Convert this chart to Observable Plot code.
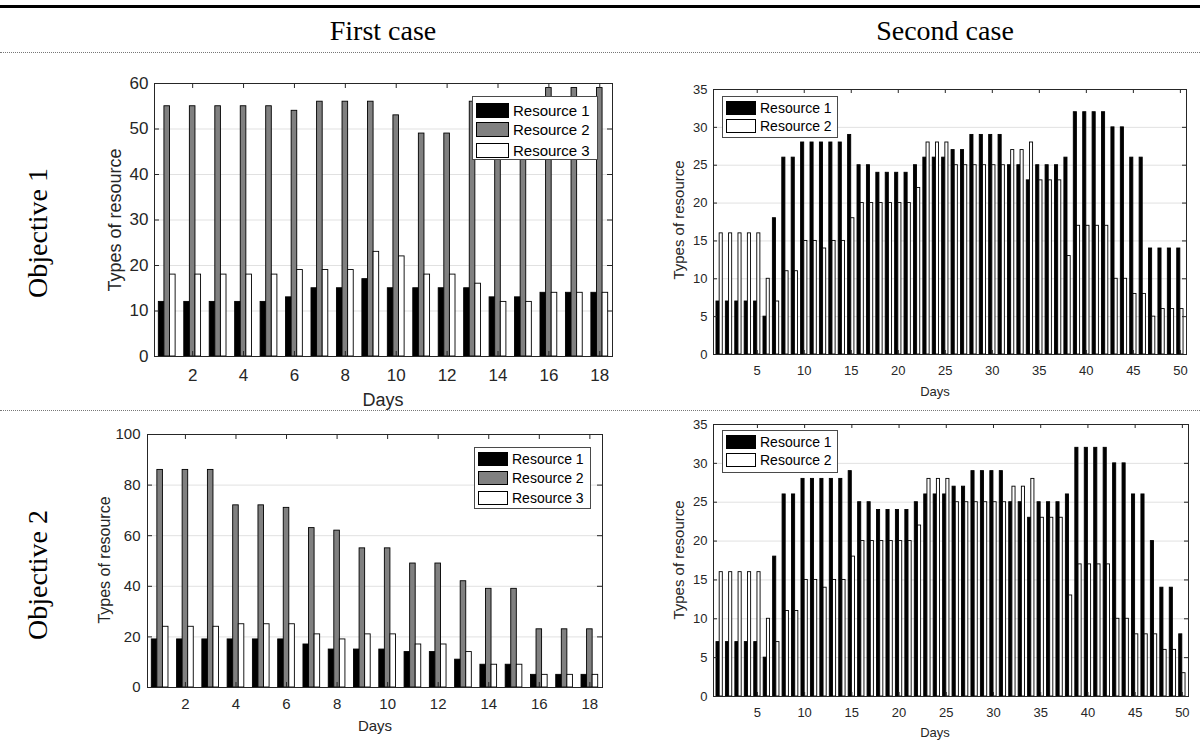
<!DOCTYPE html>
<html>
<head>
<meta charset="utf-8">
<script src="https://cdn.jsdelivr.net/npm/d3@7"></script>
<script src="https://cdn.jsdelivr.net/npm/@observablehq/plot@0.6"></script>
<style>
  html, body { margin: 0; padding: 0; background: #fff; }
  #page { position: relative; width: 1200px; height: 740px; overflow: hidden; background: #fff;
          font-family: "Liberation Sans", Arial, sans-serif; color: #262626; }
  .abs { position: absolute; }
  .serif { font-family: "Liberation Serif", "Times New Roman", serif; color: #000; font-size: 28px; white-space: nowrap; }
  .lab { white-space: nowrap; color: #262626; }
  .c { transform: translate(-50%, -50%); }
  .rot { transform: translate(-50%, -50%) rotate(-90deg); }
  .legend { position: absolute; background: #fff; border: 1px solid #4a4a4a; box-sizing: border-box; }
  .legend .row { position: absolute; left: 0; display: flex; align-items: center; white-space: nowrap; color: #000; }
  .legend .sw { border: 1px solid #000; box-sizing: border-box; margin-right: 4px; }
  .dotline { position: absolute; left: 0; width: 1200px; height: 0; border-top: 1px dotted #777; }
</style>
</head>
<body>
<div id="page"></div>
<script>
// ---------------- data ----------------
const days18 = [1,2,3,4,5,6,7,8,9,10,11,12,13,14,15,16,17,18];
const days50 = [1,2,3,4,5,6,7,8,9,10,11,12,13,14,15,16,17,18,19,20,21,22,23,24,25,
                26,27,28,29,30,31,32,33,34,35,36,37,38,39,40,41,42,43,44,45,46,47,48,49,50];

// First case, Objective 1
const c1o1R1 = [12,12,12,12,12,13,15,15,17,15,15,15,15,13,13,14,14,14];
const c1o1R2 = [55,55,55,55,55,54,56,56,56,53,49,49,56,57,57,59,59,59];
const c1o1R3 = [18,18,18,18,18,19,19,19,23,22,18,18,16,12,12,14,14,14];

// First case, Objective 2
const c1o2R1 = [19,19,19,19,19,19,17,15,15,15,14,14,11,9,9,5,5,5];
const c1o2R2 = [86,86,86,72,72,71,63,62,55,55,49,49,42,39,39,23,23,23];
const c1o2R3 = [24,24,24,25,25,25,21,19,21,21,17,17,14,9,9,5,5,5];

// Second case, Objective 1
const c2o1R1 = [7,7,7,7,7,5,18,26,26,28,28,28,28,28,29,25,25,24,24,24,24,25,26,26,26,
                27,27,29,29,29,29,25,25,23,25,25,25,26,32,32,32,32,30,30,26,26,14,14,14,14];
const c2o1R2 = [16,16,16,16,16,10,7,11,11,15,15,14,15,15,18,20,20,20,20,20,20,22,28,28,28,
                25,25,25,25,25,25,27,27,28,23,23,23,13,17,17,17,17,10,10,8,8,5,6,6,6];

// Second case, Objective 2
const c2o2R1 = [7,7,7,7,7,5,18,26,26,28,28,28,28,28,29,25,25,24,24,24,24,25,26,26,26,
                27,27,29,29,29,29,25,25,23,25,25,25,26,32,32,32,32,30,30,26,26,20,14,14,8];
const c2o2R2 = [16,16,16,16,16,10,7,11,11,15,15,14,15,15,18,20,20,20,20,20,20,22,28,28,28,
                25,25,25,25,25,25,27,27,28,23,23,23,13,17,17,17,17,10,10,8,8,8,6,6,3];

const names3 = ["Resource 1", "Resource 2", "Resource 3"];
const names2 = ["Resource 1", "Resource 2"];
const fills3 = ["#000000", "#808080", "#ffffff"];
const fills2 = ["#000000", "#ffffff"];

const xTicks18 = [2,4,6,8,10,12,14,16,18];
const xTicks50 = [5,10,15,20,25,30,35,40,45,50];
const yTicks60 = [0,10,20,30,40,50,60];
const yTicks100 = [0,20,40,60,80,100];
const yTicks35 = [0,5,10,15,20,25,30,35];

const headers = ["First case", "Second case"];
const rowLabels = ["Objective 1", "Objective 2"];

// ---------------- helpers ----------------
const page = document.getElementById("page");

function place(el, left, top) {
  el.style.position = "absolute";
  el.style.left = left + "px";
  el.style.top = top + "px";
  page.appendChild(el);
  return el;
}

function textAt(str, x, y, cls, size) {
  const d = document.createElement("div");
  d.className = "abs " + cls;
  d.textContent = str;
  if (size) d.style.fontSize = size + "px";
  d.style.left = x + "px";
  d.style.top = y + "px";
  page.appendChild(d);
  return d;
}

function panel(cfg) {
  const {days, series, fills, xDomain, xTicks, yDomain, yTicks, offsets, bw,
         width, height, ml, mr, mt, mb, fs, xPad, yPad, tick} = cfg;
  const ph = height - mt - mb, pw = width - ml - mr;
  const rows = series.flatMap((vals, s) => vals.map((v, j) => ({day: days[j], s, v})));
  return Plot.plot({
    width, height,
    marginLeft: ml, marginRight: mr, marginTop: mt, marginBottom: mb,
    style: {fontFamily: "'Liberation Sans', Arial, sans-serif", fontSize: fs + "px",
            color: "#262626", background: "transparent", overflow: "visible"},
    x: {domain: xDomain},
    y: {domain: yDomain},
    color: {type: "identity"},
    marks: [
      Plot.gridY(yTicks, {stroke: "#e1e1e1", strokeOpacity: 1}),
      Plot.rect(rows, {
        x1: d => d.day + offsets[d.s] - bw / 2,
        x2: d => d.day + offsets[d.s] + bw / 2,
        y1: d => 0, y2: "v",
        fill: d => fills[d.s], stroke: "#000", strokeWidth: 0.9
      }),
      Plot.tickX(xTicks, {x: d => d, insetTop: ph - tick, stroke: "#262626"}),
      Plot.tickX(xTicks, {x: d => d, insetBottom: ph - tick, stroke: "#262626"}),
      Plot.tickY(yTicks, {y: d => d, insetRight: pw - tick, stroke: "#262626"}),
      Plot.tickY(yTicks, {y: d => d, insetLeft: pw - tick, stroke: "#262626"}),
      Plot.axisX(xTicks, {tickSize: 0, tickPadding: xPad, label: null}),
      Plot.axisY(yTicks, {tickSize: 0, tickPadding: yPad, label: null}),
      Plot.frame({stroke: "#262626"})
    ]
  });
}

function legend(left, top, w, h, names, fills, rowCenters, swW, swH, fs) {
  const box = document.createElement("div");
  box.className = "legend";
  box.style.left = left + "px"; box.style.top = top + "px";
  box.style.width = w + "px"; box.style.height = h + "px";
  names.forEach((n, i) => {
    const r = document.createElement("div");
    r.className = "row";
    r.style.top = (rowCenters[i] - swH / 2 - 1) + "px";
    r.style.left = "3px";
    r.style.height = (swH) + "px";
    r.style.fontSize = fs + "px";
    const sw = document.createElement("div");
    sw.className = "sw";
    sw.style.width = swW + "px"; sw.style.height = swH + "px";
    sw.style.background = fills[i];
    const t = document.createElement("span");
    t.textContent = n;
    r.appendChild(sw); r.appendChild(t);
    box.appendChild(r);
  });
  page.appendChild(box);
}

// ---------------- table decoration ----------------
const topLine = document.createElement("div");
topLine.style.cssText = "width:1200px;height:3px;background:#000;";
place(topLine, 0, 5);

const d1 = document.createElement("div"); d1.className = "dotline"; place(d1, 0, 52);
const d2 = document.createElement("div"); d2.className = "dotline"; place(d2, 0, 410);

textAt(headers[0], 383, 31, "serif c");
textAt(headers[1], 945, 31, "serif c");
textAt(rowLabels[0], 38, 233, "serif rot");
textAt(rowLabels[1], 38, 575, "serif rot");

// ---------------- panels ----------------
// First case, objective 1
place(panel({
  days: days18, series: [c1o1R1, c1o1R2, c1o1R3], fills: fills3,
  xDomain: [0.5, 18.5], xTicks: xTicks18, yDomain: [0, 60], yTicks: yTicks60,
  offsets: [-0.22, 0, 0.22], bw: 0.22,
  width: 530, height: 340, ml: 54, mr: 18, mt: 13, mb: 54, fs: 17, xPad: 12, yPad: 6, tick: 5
}), 100, 70);
textAt("Days", 383, 400, "lab c", 18);
textAt("Types of resource", 115, 220, "lab rot", 18);
legend(472, 96, 126, 64, names3, fills3, [14, 33.5, 54], 33, 15, 15);

// First case, objective 2
place(panel({
  days: days18, series: [c1o2R1, c1o2R2, c1o2R3], fills: fills3,
  xDomain: [0.5, 18.5], xTicks: xTicks18, yDomain: [0, 100], yTicks: yTicks100,
  offsets: [-0.22, 0, 0.22], bw: 0.22,
  width: 530, height: 320, ml: 57, mr: 18, mt: 14, mb: 53, fs: 15, xPad: 11, yPad: 7, tick: 5
}), 90, 420);
textAt("Days", 375, 725, "lab c", 15);
textAt("Types of resource", 105, 560, "lab rot", 16);
legend(474, 447, 117, 62, names3, fills3, [12, 31, 50.5], 30, 14, 14);

// Second case, objective 1
place(panel({
  days: days50, series: [c2o1R1, c2o1R2], fills: fills2,
  xDomain: [0.35, 50.65], xTicks: xTicks50, yDomain: [0, 35], yTicks: yTicks35,
  offsets: [-0.17, 0.17], bw: 0.33,
  width: 540, height: 335, ml: 53, mr: 14, mt: 14, mb: 56, fs: 13, xPad: 11, yPad: 6, tick: 4
}), 660, 75);
textAt("Days", 935, 391, "lab c", 13);
textAt("Types of resource", 678, 220, "lab rot", 15);
legend(722, 96, 116, 42, names2, fills2, [12, 30], 30, 14, 14);

// Second case, objective 2
place(panel({
  days: days50, series: [c2o2R1, c2o2R2], fills: fills2,
  xDomain: [0.35, 50.65], xTicks: xTicks50, yDomain: [0, 35], yTicks: yTicks35,
  offsets: [-0.17, 0.17], bw: 0.33,
  width: 540, height: 325, ml: 53, mr: 12, mt: 9, mb: 44, fs: 13, xPad: 11, yPad: 6, tick: 4
}), 660, 415);
textAt("Days", 935, 732, "lab c", 13);
textAt("Types of resource", 678, 560, "lab rot", 15);
legend(722, 430, 116, 43, names2, fills2, [12, 30], 30, 14, 14);
</script>
</body>
</html>
